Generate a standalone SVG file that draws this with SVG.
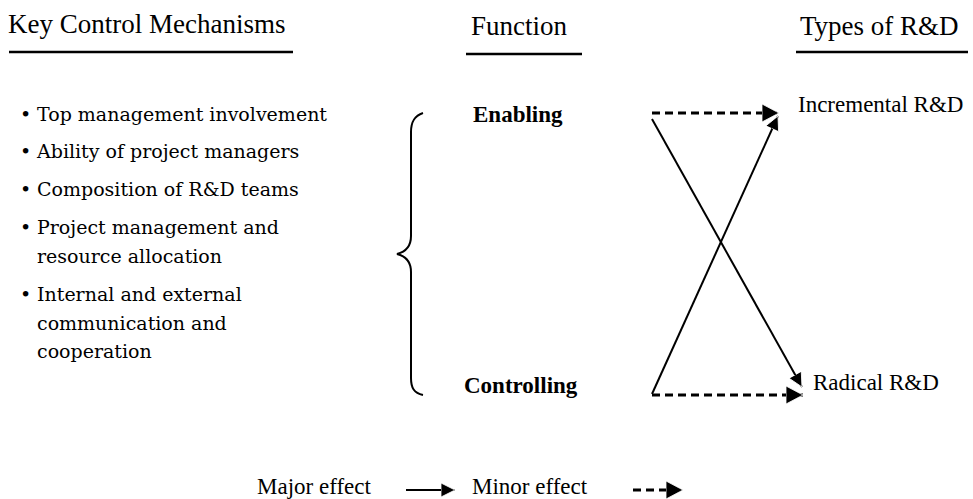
<svg xmlns="http://www.w3.org/2000/svg" width="973" height="499" viewBox="0 0 973 499">
<style>
.title{font-family:"Liberation Serif","Times New Roman",serif;font-size:27px;fill:#000}
.item{font-family:"DejaVu Serif",serif;font-size:19px;fill:#000}
.func{font-family:"Liberation Serif","Times New Roman",serif;font-size:23px;font-weight:bold;fill:#000}
.type{font-family:"Liberation Serif","Times New Roman",serif;font-size:23px;fill:#000}
.rule{stroke:#000;stroke-width:2.5}
.solid{stroke:#000;stroke-width:2;fill:none}
.dash{stroke:#000;stroke-width:3;stroke-dasharray:8 5;fill:none}
</style>
<defs>
<marker id="headS" markerUnits="userSpaceOnUse" markerWidth="16" markerHeight="14" refX="14" refY="7" orient="auto">
<path d="M0,0 L14,7 L0,14 z" fill="#000" stroke="#fff" stroke-width="0.8"/>
</marker>
<marker id="headD" markerUnits="userSpaceOnUse" markerWidth="18" markerHeight="18" refX="17" refY="9" orient="auto">
<path d="M0,0 L17,9 L0,18 z" fill="#000" stroke="#fff" stroke-width="0.8"/>
</marker>
</defs>
<rect width="973" height="499" fill="#fff"/>
<g id="header-mechanisms">
<text class="title" x="8" y="33">Key Control Mechanisms</text>
<line class="rule" x1="9" y1="52" x2="293" y2="52"/>
</g>
<g id="header-function">
<text class="title" x="471" y="35">Function</text>
<line class="rule" x1="466" y1="54" x2="582" y2="54"/>
</g>
<g id="header-types">
<text class="title" x="800" y="35">Types of R&amp;D</text>
<line class="rule" x1="796" y1="52" x2="968" y2="52"/>
</g>
<g id="mechanisms">
<text class="item" x="20" y="121">•</text><text class="item" x="37" y="121">Top management involvement</text>
<text class="item" x="20" y="158">•</text><text class="item" x="37" y="158">Ability of project managers</text>
<text class="item" x="20" y="196">•</text><text class="item" x="37" y="196">Composition of R&amp;D teams</text>
<text class="item" x="20" y="234">•</text><text class="item" x="37" y="234">Project management and</text>
<text class="item" x="37" y="263">resource allocation</text>
<text class="item" x="20" y="301">•</text><text class="item" x="37" y="301">Internal and external</text>
<text class="item" x="37" y="330">communication and</text>
<text class="item" x="37" y="358">cooperation</text>
</g>
<g id="brace">
<path class="solid" d="M423,113 C414,116 411,122 411,132 L411,236 C411,247 405,252 397,254 C405,256 411,261 411,272 L411,378 C411,388 414,393 423,395" stroke-width="1.8"/>
</g>
<g id="enabling"><text class="func" x="473" y="122">Enabling</text></g>
<g id="controlling"><text class="func" x="464" y="393">Controlling</text></g>
<g id="incremental"><text class="type" x="798" y="112">Incremental R&amp;D</text></g>
<g id="radical"><text class="type" x="813" y="390">Radical R&amp;D</text></g>
<g id="connectors">
<line class="solid" x1="652" y1="119" x2="802" y2="387" marker-end="url(#headS)"/>
<line class="solid" x1="652" y1="394" x2="778" y2="116" marker-end="url(#headS)"/>
<line class="dash" x1="652" y1="113" x2="779" y2="113" marker-end="url(#headD)"/>
<line class="dash" x1="652" y1="395" x2="803" y2="395" marker-end="url(#headD)"/>
</g>
<g id="legend">
<text class="type" x="257" y="494">Major effect</text>
<line class="solid" x1="406" y1="490" x2="455" y2="490" marker-end="url(#headS)"/>
<text class="type" x="472" y="494">Minor effect</text>
<line class="dash" x1="633" y1="490" x2="683" y2="490" stroke-dasharray="10 9" marker-end="url(#headD)"/>
</g>
</svg>
